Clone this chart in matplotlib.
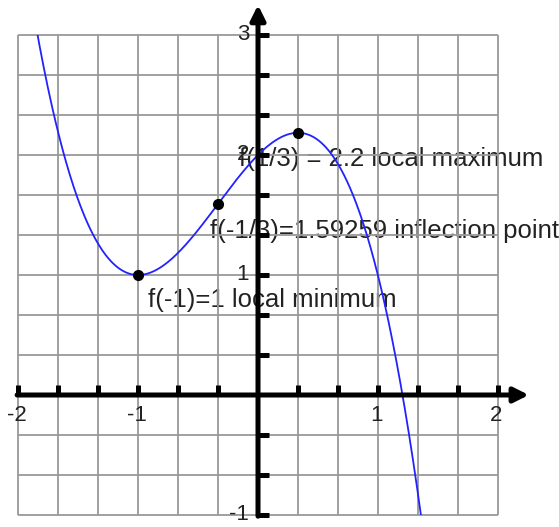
import numpy as np
import matplotlib.pyplot as plt
from matplotlib.patches import Rectangle

plt.rcParams['font.family'] = ['Liberation Sans', 'DejaVu Sans']

# cubic f(x) = -x^3 - x^2 + x + 2 (from the labelled points)
coeffs = [-1, -1, 1, 2]
points_x = [-1, -1/3, 1/3]
points_y = [1, 1.59259, 2.185]
labels = ['f(-1)=1 local minimum', 'f(-1/3)=1.59259 inflection point',
          'f(1/3) = 2.2 local maximum']
label_pos = [(-0.92, 0.79), (-0.40, 1.37), (-0.16, 1.97)]
xtick_labels = {-2: '-2', -1: '-1', 1: '1', 2: '2'}
ytick_labels = {-1: '-1', 1: '1', 2: '2', 3: '3'}

fig = plt.figure(figsize=(5.59, 5.27), dpi=100)
ax = fig.add_axes([0, 0, 1, 1])
ax.set_xlim(-258 / 119.85, (559 - 258) / 119.85)
ax.set_ylim(-132 / 120, 395 / 120)
ax.axis('off')

# grid in thirds
g = np.arange(-6, 7) / 3
ax.vlines(g, -1, 3, color='#999999', lw=1.3, zorder=1)
gy = np.arange(-3, 10) / 3
ax.hlines(gy, -2, 2, color='#999999', lw=1.3, zorder=1)

# function curve, clipped to the grid box
xs = np.linspace(-2, 2, 800)
line, = ax.plot(xs, np.polyval(coeffs, xs), color='#2222ff', lw=1.3, zorder=3)
clip = Rectangle((-2, -1), 4, 4, transform=ax.transData)
line.set_clip_path(clip)

# axes with arrows
ax.annotate('', xy=(2.26, 0), xytext=(-2.01, 0),
            arrowprops=dict(arrowstyle='-|>', color='black', lw=3.6,
                            mutation_scale=22, shrinkA=0, shrinkB=0), zorder=4)
ax.annotate('', xy=(0, 3.25), xytext=(0, -1.01),
            arrowprops=dict(arrowstyle='-|>', color='black', lw=3.6,
                            mutation_scale=22, shrinkA=0, shrinkB=0), zorder=4)

# tick marks
tx = g[g != 0]
ax.vlines(tx, 0, 0.085, color='black', lw=3.6, zorder=4)
ty = gy[np.abs(gy) > 1e-9]
ax.hlines(ty, 0, 0.09, color='black', lw=3.6, zorder=4)

for v, t in xtick_labels.items():
    ax.text(v - 0.01, -0.17, t, ha='center', va='center', fontsize=16, color='#222222')
for v, t in ytick_labels.items():
    ax.text(-0.075, v, t, ha='right', va='center', fontsize=16, color='#222222')

# labelled points
ax.plot(points_x, points_y, 'o', color='black', ms=7, zorder=5)
for (lx, ly), t in zip(label_pos, labels):
    ax.text(lx, ly, t, ha='left', va='center', fontsize=18.5, color='#222222', zorder=0.5)

fig.savefig('out.png', dpi=100)
